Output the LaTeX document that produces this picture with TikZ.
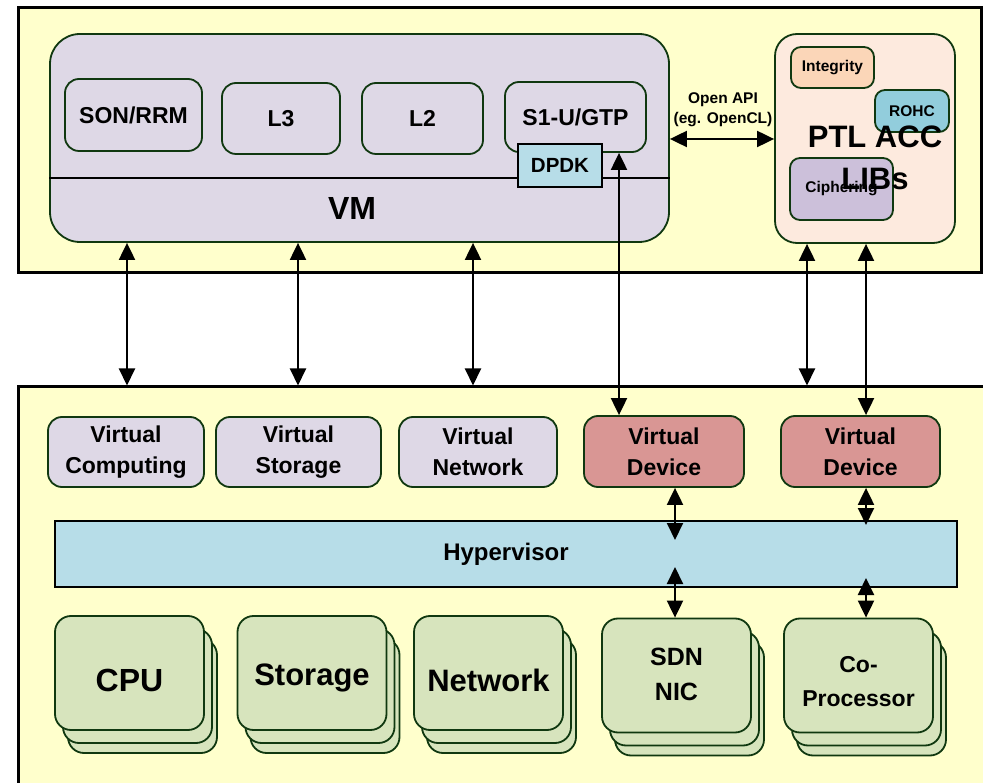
\documentclass[tikz,border=0pt]{standalone}
\usepackage{fontspec}
\setmainfont{Liberation Sans}
\usetikzlibrary{arrows.meta}
\definecolor{bgy}{RGB}{255,255,204}
\definecolor{lav}{RGB}{222,216,230}
\definecolor{dgreen}{RGB}{16,56,16}
\definecolor{peach}{RGB}{253,234,222}
\definecolor{integ}{RGB}{251,214,184}
\definecolor{rohc}{RGB}{146,205,220}
\definecolor{ciph}{RGB}{204,192,218}
\definecolor{lblue}{RGB}{183,221,232}
\definecolor{vdev}{RGB}{217,150,148}
\definecolor{hw}{RGB}{215,228,189}
\begin{document}
\begin{tikzpicture}[x=1pt,y=-1pt,
  outer/.style={draw=black, line width=3pt, fill=bgy, inner sep=0pt},
  rbox/.style={draw=dgreen, line width=1.8pt, rounded corners=14pt, inner sep=0pt, align=center, font=\bfseries\fontsize{23}{31}\selectfont},
  small/.style={rbox, rounded corners=10pt, font=\bfseries\fontsize{15.5}{18}\selectfont},
  sqbox/.style={draw=black, line width=2pt, inner sep=0pt, align=center},
  hwbox/.style={rbox, fill=hw, minimum width=149, minimum height=114, rounded corners=16pt},
  hwtext/.style={inner sep=0pt, align=center},
  arr/.style={line width=2pt, {Triangle[length=17pt,width=16pt]}-{Triangle[length=17pt,width=16pt]}},
  lbl/.style={inner sep=0pt, align=center}
]
\useasboundingbox (0,0) rectangle (983,783);
\clip (0,0) rectangle (983,783);

% top outer box
\node[outer, minimum width=963, minimum height=265] (top) at (499.5,140.5) {};
% VM
\node[rbox, fill=lav, rounded corners=30pt, minimum width=619, minimum height=208] (VM) at (359.5,138) {};
\coordinate (ly) at (0,178);
\draw[line width=1.5pt] (VM.west |- ly) -- (VM.east |- ly);
\node[lbl, font=\bfseries\fontsize{32}{36}\selectfont] (vmlabel) at (352,208) {VM};
\node[rbox, minimum width=137, minimum height=72] (son) at (133.5,115) {SON/RRM};
\node[rbox, minimum width=118, minimum height=71] (L3) at (281,118.5) {L3};
\node[rbox, minimum width=121, minimum height=71] (L2) at (422.5,118.5) {L2};
\node[rbox, minimum width=141, minimum height=70] (S1) at (575.5,117) {S1-U/GTP};
\node[sqbox, fill=lblue, minimum width=84, minimum height=43, font=\bfseries\fontsize{20.5}{24}\selectfont] (dpdk) at (560,165.5) {DPDK};

% Open API
\node[lbl, font=\bfseries\fontsize{15.5}{20}\selectfont] (api) at (723,110) {Open API\\(eg. OpenCL)};

% PTL ACC LIBs
\node[rbox, fill=peach, rounded corners=22pt, minimum width=180, minimum height=209] (PTL) at (865,138.5) {};
\node[small, fill=integ, minimum width=83, minimum height=41] (integ) at (832.5,67.5) {Integrity};
\node[small, fill=rohc, minimum width=74, minimum height=42] (rohc) at (912,111) {ROHC};
\node[small, fill=ciph, minimum width=103, minimum height=62] (ciph) at (841.5,189) {Ciphering};
\node[lbl, font=\bfseries\fontsize{31}{42}\selectfont] (ptltext) at (875,158) {PTL ACC\\LIBs};

\coordinate (apiy) at (0,139);
\draw[arr] (VM.east |- apiy) -- (PTL.west |- apiy);

% bottom outer box
\node[outer, minimum width=977, minimum height=413] (bot) at (506.5,593.5) {};

% virtual boxes
\node[rbox, fill=lav, minimum width=156, minimum height=70] (VC) at (126,452) {Virtual\\Computing};
\node[rbox, fill=lav, minimum width=165, minimum height=70] (VS) at (298.5,452) {Virtual\\Storage};
\node[rbox, fill=lav, minimum width=158, minimum height=70] (VN) at (478,452) {Virtual\\Network};
\node[rbox, fill=vdev, minimum width=160, minimum height=71] (VD1) at (664,451.5) {Virtual\\Device};
\node[rbox, fill=vdev, minimum width=159, minimum height=71] (VD2) at (860.5,451.5) {Virtual\\Device};

% hypervisor
\node[sqbox, fill=lblue, minimum width=902, minimum height=66, font=\bfseries\fontsize{24}{28}\selectfont] (hyp) at (506,554) {Hypervisor};

% hardware stacks
\foreach \n/\cx/\cy in {cpu/129.5/673, sto/312/673, net/488.5/673, sdn/676.5/675.5, cop/858.5/675.5}{
  \node[hwbox] (\n3) at (\cx+13,\cy+23) {};
  \node[hwbox] (\n2) at (\cx+8,\cy+13) {};
  \node[hwbox] (\n) at (\cx,\cy) {};
}
\node[hwtext, font=\bfseries\fontsize{32}{36}\selectfont] (cputxt) at ([yshift=-7pt]cpu.center) {CPU};
\node[hwtext, font=\bfseries\fontsize{31}{36}\selectfont] (stotxt) at ([yshift=-5pt]sto.center) {Storage};
\node[hwtext, font=\bfseries\fontsize{31}{36}\selectfont] (nettxt) at ([yshift=-7pt]net.center) {Network};
\node[hwtext, font=\bfseries\fontsize{25}{35}\selectfont] (sdntxt) at ([yshift=1pt]sdn.center) {SDN\\NIC};
\node[hwtext, font=\bfseries\fontsize{23}{34}\selectfont] (coptxt) at ([yshift=-6pt]cop.center) {Co-\\Processor};

% arrows
\coordinate (x1) at (127,0);
\coordinate (x2) at (298,0);
\coordinate (x3) at (473,0);
\coordinate (x4) at (619,0);
\coordinate (x5) at (807,0);
\coordinate (x6) at (866,0);
\draw[arr] (VM.south -| x1) -- (bot.north -| x1);
\draw[arr] (VM.south -| x2) -- (bot.north -| x2);
\draw[arr] (VM.south -| x3) -- (bot.north -| x3);
\draw[arr] (S1.south -| x4) -- (VD1.north -| x4);
\draw[arr] (PTL.south -| x5) -- (bot.north -| x5);
\draw[arr] (PTL.south -| x6) -- (VD2.north -| x6);

\coordinate (h1t) at (675,540);
\coordinate (h1b) at (675,567);
\coordinate (h2t) at (866,525);
\coordinate (h2b) at (866,578);
\draw[arr] (VD1.south -| h1t) -- (h1t);
\draw[arr] (h1b) -- (sdn.north -| h1b);
\draw[arr] (VD2.south -| h2t) -- (h2t);
\draw[arr] (h2b) -- (cop.north -| h2b);
\end{tikzpicture}
\end{document}
